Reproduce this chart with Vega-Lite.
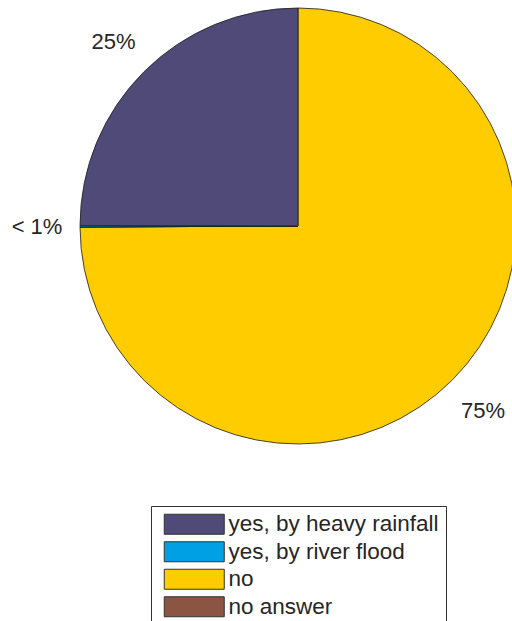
{
  "$schema": "https://vega.github.io/schema/vega-lite/v6.json",
  "autosize": {"type": "none"},
  "width": 428,
  "height": 452,
  "padding": {"left": 84, "top": 0, "right": 0, "bottom": 169},
  "background": "white",
  "config": {"view": {"stroke": null}, "font": "Liberation Sans"},
  "data": {"values": [
    {"cat": "no", "v": 75, "o": 1, "label": "75%"},
    {"cat": "no answer", "v": 0, "o": 2, "label": ""},
    {"cat": "yes, by river flood", "v": 0.1, "o": 3, "label": "< 1%"},
    {"cat": "yes, by heavy rainfall", "v": 25, "o": 4, "label": "25%"}
  ]},
  "encoding": {
    "theta": {"field": "v", "type": "quantitative", "stack": true},
    "order": {"field": "o", "type": "quantitative"}
  },
  "layer": [
    {
      "mark": {"type": "arc", "outerRadius": 218, "stroke": "#1a1a1a", "strokeWidth": 0.8},
      "encoding": {
        "color": {
          "field": "cat", "type": "nominal",
          "scale": {
            "domain": ["yes, by heavy rainfall", "yes, by river flood", "no", "no answer"],
            "range": ["#4f4a77", "#00a0e4", "#ffcc00", "#8c5443"]
          },
          "legend": {
            "title": null,
            "orient": "none",
            "legendX": 67,
            "legendY": 506,
            "direction": "vertical",
            "padding": 7,
            "symbolOffset": 5,
            "strokeColor": "#333333",
            "fillColor": "white",
            "symbolType": "M-1,-1H5V1H-1Z",
            "symbolSize": 400,
            "symbolStrokeColor": "#333333",
            "symbolStrokeWidth": 1,
            "symbolOpacity": 1,
            "labelFont": "Liberation Sans",
            "labelFontSize": 22.5,
            "labelColor": "#262626",
            "labelOffset": 43,
            "labelLimit": 400,
            "rowPadding": 2.5
          }
        }
      }
    },
    {
      "mark": {"type": "text", "radius": 261, "fontSize": 22, "font": "Liberation Sans", "color": "#262626", "align": "center", "baseline": "middle", "dy": 1},
      "encoding": {"text": {"field": "label"}}
    }
  ]
}
